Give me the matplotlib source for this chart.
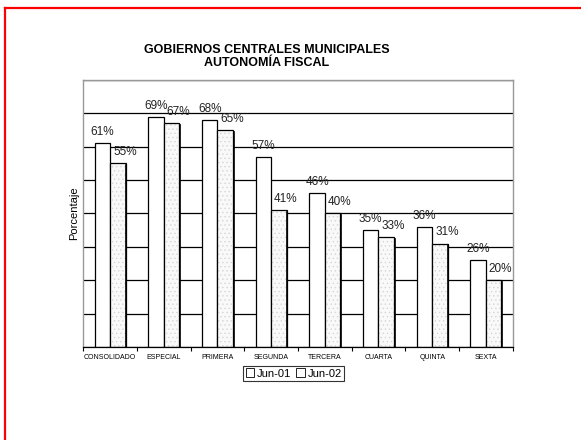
import numpy as np
import matplotlib.pyplot as plt
from matplotlib.lines import Line2D

plt.rcParams['font.family'] = ['Liberation Sans', 'DejaVu Sans']
plt.rcParams['hatch.linewidth'] = 0.5

# data
categories = ['CONSOLIDADO', 'ESPECIAL', 'PRIMERA', 'SEGUNDA',
              'TERCERA', 'CUARTA', 'QUINTA', 'SEXTA']
jun01 = [61, 69, 68, 57, 46, 35, 36, 26]
jun02 = [55, 67, 65, 41, 40, 33, 31, 20]
series_names = ['Jun-01', 'Jun-02']

fig = plt.figure(figsize=(5.81, 4.40), dpi=100)
ax = fig.add_axes([0.1434, 0.2114, 0.739, 0.6068])

x = np.arange(len(categories))
w = 0.29

# gridlines
ax.set_ylim(0, 80)
ax.set_xlim(-0.5, len(categories) - 0.5)
ax.set_yticks(np.arange(0, 81, 10))
ax.yaxis.grid(True, color='black', linewidth=0.9)
ax.set_axisbelow(True)
ax.tick_params(axis='y', left=False, labelleft=False)

# first series: white bars
b1 = ax.bar(x - w / 2, jun01, w, color='white', edgecolor='black', linewidth=0.9, zorder=2)
# second series: dotted fill, then black outline
ax.bar(x + w / 2, jun02, w, color='#f9f9f9', edgecolor='#d6d6d6', hatch='....',
       linewidth=0, zorder=2)
b2 = ax.bar(x + w / 2, jun02, w, fill=False, edgecolor='black', linewidth=0.9, zorder=3)
# right-edge shadow on the dotted bars
for xi, v in zip(x, jun02):
    ax.plot([xi + w + 0.012, xi + w + 0.012], [0, v - 0.5], color='black', linewidth=1.2, zorder=3)

for xi, v in zip(x, jun01):
    ax.annotate(f'{v}%', (xi - w / 2, v), xytext=(0, 8), textcoords='offset points',
                ha='center', va='center', fontsize=8.5, color='#222222')
for xi, v in zip(x, jun02):
    ax.annotate(f'{v}%', (xi + w / 2, v), xytext=(5, 8), textcoords='offset points',
                ha='center', va='center', fontsize=8.5, color='#222222')

ax.set_xticks(x)
ax.set_xticklabels(categories, fontsize=5)
ax.set_xticks(np.arange(-0.5, len(categories) + 0.5, 1), minor=True)
ax.tick_params(axis='x', which='major', length=0, pad=5)
ax.tick_params(axis='x', which='minor', length=3, width=0.8, direction='out', color='black')

for side in ['top', 'right', 'left']:
    ax.spines[side].set_color('#999999')
    ax.spines[side].set_linewidth(1.0)
ax.spines['bottom'].set_color('black')
ax.spines['bottom'].set_linewidth(0.9)

ax.set_ylabel('Porcentaje', fontsize=8, labelpad=3)

fig.text(267 / 581, 1 - 56.5 / 440, 'GOBIERNOS CENTRALES MUNICIPALES\nAUTONOMÍA FISCAL',
         ha='center', va='center', fontsize=9, fontweight='bold', linespacing=1.15)

leg = ax.legend([b1, b2], series_names, loc='center', bbox_to_anchor=(293.7 / 581, 1 - 373.5 / 440),
                bbox_transform=fig.transFigure, ncol=2, fontsize=8, frameon=True, fancybox=False,
                handlelength=0.8, handleheight=0.8, handletextpad=0.2, columnspacing=0.5,
                borderpad=0.2, borderaxespad=0)
leg.get_frame().set_edgecolor('black')
leg.get_frame().set_linewidth(0.8)
for h in leg.legend_handles:
    h.set_facecolor('white')
    h.set_fill(True)
    h.set_edgecolor('black')
    h.set_linewidth(0.6)

# red frame around the page
fig.add_artist(Line2D([5 / 581, 5 / 581], [0, 1 - 8 / 440], color='red', linewidth=1.6))
fig.add_artist(Line2D([5 / 581, 1], [1 - 8 / 440, 1 - 8 / 440], color='red', linewidth=1.6))

fig.savefig('out.png', dpi=100)
